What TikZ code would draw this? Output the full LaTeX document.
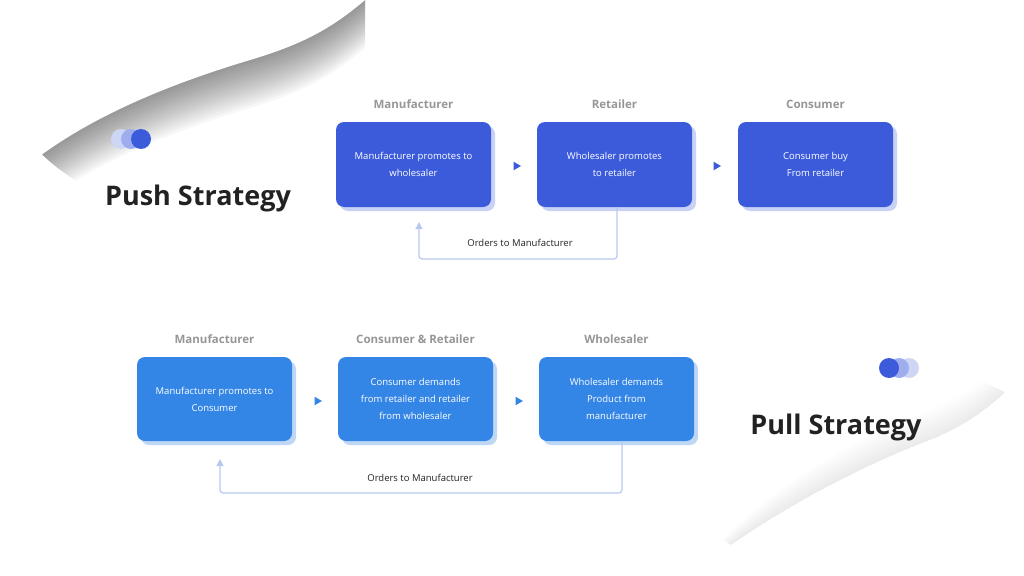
\documentclass[tikz,border=0pt]{standalone}
\usepackage{fontspec}
\setmainfont{Open Sans}
\usetikzlibrary{arrows.meta,shapes.geometric}
\definecolor{pushb}{RGB}{59,91,219}
\definecolor{pullb}{RGB}{51,133,230}
\definecolor{pushs}{RGB}{200,210,245}
\definecolor{pulls}{RGB}{190,215,245}
\definecolor{fb}{RGB}{185,200,240}
\definecolor{hdr}{RGB}{150,150,150}
\definecolor{ttl}{RGB}{34,34,34}
\begin{document}
\begin{tikzpicture}[x=1pt,y=-1pt,
  box/.style={rounded corners=8pt,minimum width=155pt,minimum height=85pt,inner sep=0pt,text=white,font=\fontsize{9.5}{17}\selectfont,align=center,text depth=-6pt},
  hdr/.style={text=hdr,font=\fontsize{11.5}{14}\selectfont\bfseries},
  ttl/.style={text=ttl,font=\fontsize{27}{32}\selectfont\bfseries},
  tri/.style={fill=#1,regular polygon,regular polygon sides=3,shape border rotate=-90,inner sep=0pt,minimum size=10pt},
  fbl/.style={draw=fb,line width=1.2pt,rounded corners=3pt,-{Triangle[length=7pt,width=7pt]}},
  lbl/.style={font=\fontsize{9.5}{12}\selectfont,text=ttl}]
\useasboundingbox (0,0) rectangle (1024,575);
% top-left swoosh shadow
\begin{scope}
\clip (250,75) ellipse (245 and 150);
\foreach \i in {1,...,16}{
  \fill[black,opacity=0.03] (0,190+3*\i) .. controls (60,130+3*\i) and (150,90+3*\i) .. (250,60+3*\i) .. controls (300,45+3*\i) and (330,30+3*\i) .. (365,0+3*\i) -- (365,0) -- (0,0) -- cycle;}
\end{scope}
\fill[white] (0,190) .. controls (60,130) and (150,90) .. (250,60) .. controls (300,45) and (330,30) .. (365,0) -- (0,0) -- cycle;
% bottom-right faint shadow
\begin{scope}
\clip (870,470) ellipse (190 and 110);
\foreach \i in {1,...,10}{
  \fill[black,opacity=0.006] (690,575) .. controls (760,520-3*\i) and (850,470-3*\i) .. (930,440-3*\i) .. controls (980,420-3*\i) and (1010,390-3*\i) .. (1024,370-3*\i) -- (1024,370) .. controls (1010,390) and (980,420) .. (930,440) .. controls (850,470) and (760,520) .. (690,575) -- cycle;}
\end{scope}
% push
\node[ttl] (pusht) at (198,198) {Push Strategy};
\fill[pushb!25] (121,139) circle (10);
\fill[pushb!50] (131,139) circle (10);
\fill[pushb] (141,139) circle (10);
\fill[pushs,rounded corners=8pt] (340,126) rectangle (495,211);
\fill[pushs,rounded corners=8pt] (541,126) rectangle (696,211);
\fill[pushs,rounded corners=8pt] (742,126) rectangle (897,211);
\node[box,fill=pushb] (a1) at (413.5,164.5) {Manufacturer promotes to\\wholesaler};
\node[box,fill=pushb] (a2) at (614.5,164.5) {Wholesaler promotes\\to retailer};
\node[box,fill=pushb] (a3) at (815.5,164.5) {Consumer buy\\From retailer};
\node[hdr] (h1) at (413.5,104) {Manufacturer};
\node[hdr] (h2) at (614.5,104) {Retailer};
\node[hdr] (h3) at (815.5,104) {Consumer};
\node[tri=pushb] (t1) at (516,166) {};
\node[tri=pushb] (t2) at (716,166) {};
\coordinate (c1) at (617,259);
\coordinate (d1) at (419,259);
\coordinate (e1) at (419,222);
\draw[fbl] (c1 |- a2.south) -- (c1) -- (d1) -- (e1);
\node[lbl] (l1) at (520,243) {Orders to Manufacturer};
% pull
\node[ttl] (pullt) at (836,427) {Pull Strategy};
\fill[pushb!25] (909,368) circle (10);
\fill[pushb!50] (899,368) circle (10);
\fill[pushb] (889,368) circle (10);
\fill[pulls,rounded corners=8pt] (141,361) rectangle (296,445);
\fill[pulls,rounded corners=8pt] (342,361) rectangle (497,445);
\fill[pulls,rounded corners=8pt] (543,361) rectangle (698,445);
\node[box,fill=pullb,minimum height=84pt] (b1) at (214.5,399) {Manufacturer promotes to\\Consumer};
\node[box,fill=pullb,minimum height=84pt] (b2) at (415.5,399) {Consumer demands\\from retailer and retailer\\from wholesaler};
\node[box,fill=pullb,minimum height=84pt] (b3) at (616.5,399) {Wholesaler demands\\Product from\\manufacturer};
\node[hdr] (g1) at (214.5,339) {Manufacturer};
\node[hdr] (g2) at (415.5,339) {Consumer \& Retailer};
\node[hdr] (g3) at (616.5,339) {Wholesaler};
\node[tri=pullb] (s1) at (317,401) {};
\node[tri=pullb] (s2) at (518,401) {};
\coordinate (c2) at (622,493);
\coordinate (d2) at (220,493);
\coordinate (e2) at (220,459);
\draw[fbl] (c2 |- b3.south) -- (c2) -- (d2) -- (e2);
\node[lbl] (l2) at (420,478) {Orders to Manufacturer};
\end{tikzpicture}
\end{document}
